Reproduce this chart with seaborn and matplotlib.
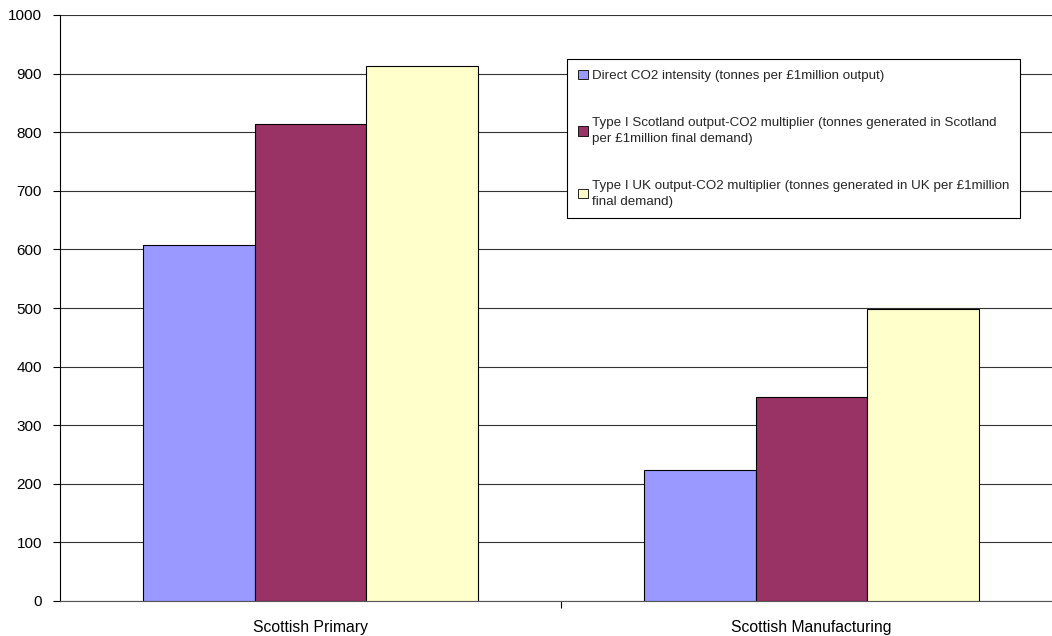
import matplotlib
matplotlib.use("Agg")
import matplotlib.pyplot as plt
import seaborn as sns
import pandas as pd
from matplotlib.patches import Patch

sectors = ["Scottish Primary", "Scottish Manufacturing"]
measures = [
    "Direct CO2 intensity (tonnes per £1million output)",
    "Type I Scotland output-CO2 multiplier (tonnes generated in Scotland\nper £1million final demand)",
    "Type I UK output-CO2 multiplier (tonnes generated in UK per £1million\nfinal demand)",
]
direct_intensity = [608, 224]
scotland_multiplier = [814, 348]
uk_multiplier = [913, 498]
colors = ["#9999FF", "#993366", "#FFFFCC"]
yticks = list(range(0, 1001, 100))

rows = []
for m, vals in zip(measures, [direct_intensity, scotland_multiplier, uk_multiplier]):
    for s, v in zip(sectors, vals):
        rows.append({"sector": s, "measure": m, "value": v})
df = pd.DataFrame(rows)

sns.set_theme(style="white")
plt.rcParams["font.family"] = ["Liberation Sans", "DejaVu Sans"]

fig = plt.figure(figsize=(10.52, 6.36), dpi=100)
ax = fig.add_axes([60 / 1052, 1 - 601 / 636, 1002 / 1052, 586 / 636])

sns.barplot(data=df, x="sector", y="value", hue="measure", order=sectors,
            hue_order=measures, palette=colors, saturation=1, width=0.67,
            edgecolor="black", linewidth=0.8, ax=ax, legend=False, zorder=3)

ax.set_ylim(0, 1000)
ax.set_xlim(-0.5, 1.5)
ax.set_yticks(yticks)
ax.set_yticklabels([str(t) for t in yticks], fontsize=11, color="black")
ax.set_xticks([0.5], minor=False)
ax.set_xticklabels([""])
for i, s in enumerate(sectors):
    ax.text(i, -0.033, s, transform=ax.get_xaxis_transform(), ha="center",
            va="top", fontsize=11.3, color="black")
ax.set_xlabel("")
ax.set_ylabel("")
ax.yaxis.grid(True, color="#333333", linewidth=0.8, zorder=0)
ax.set_axisbelow(True)
ax.tick_params(axis="y", which="major", length=5, width=0.8, color="black",
               direction="out", left=True, pad=8)
ax.tick_params(axis="x", which="major", length=5, width=0.8, color="black",
               direction="out", bottom=True)
for side in ["top", "right"]:
    ax.spines[side].set_visible(False)
ax.spines["left"].set_color("black")
ax.spines["left"].set_linewidth(0.8)
ax.spines["bottom"].set_color("#555555")
ax.spines["bottom"].set_linewidth(0.8)

handles = [Patch(facecolor=c, edgecolor="black", linewidth=0.6) for c in colors]
leg = fig.legend(handles, measures, loc="upper left",
                 bbox_to_anchor=(567 / 1052, 1 - 59 / 636), borderaxespad=0,
                 fontsize=9.6, frameon=True, fancybox=False, framealpha=1,
                 edgecolor="black", handlelength=0.75, handleheight=0.75,
                 handletextpad=0.3, labelspacing=2.6, borderpad=0.8)
for t in leg.get_texts():
    t.set_linespacing(1.45)
leg.get_frame().set_linewidth(0.8)

fig.savefig("out.png", dpi=100, facecolor="white")
